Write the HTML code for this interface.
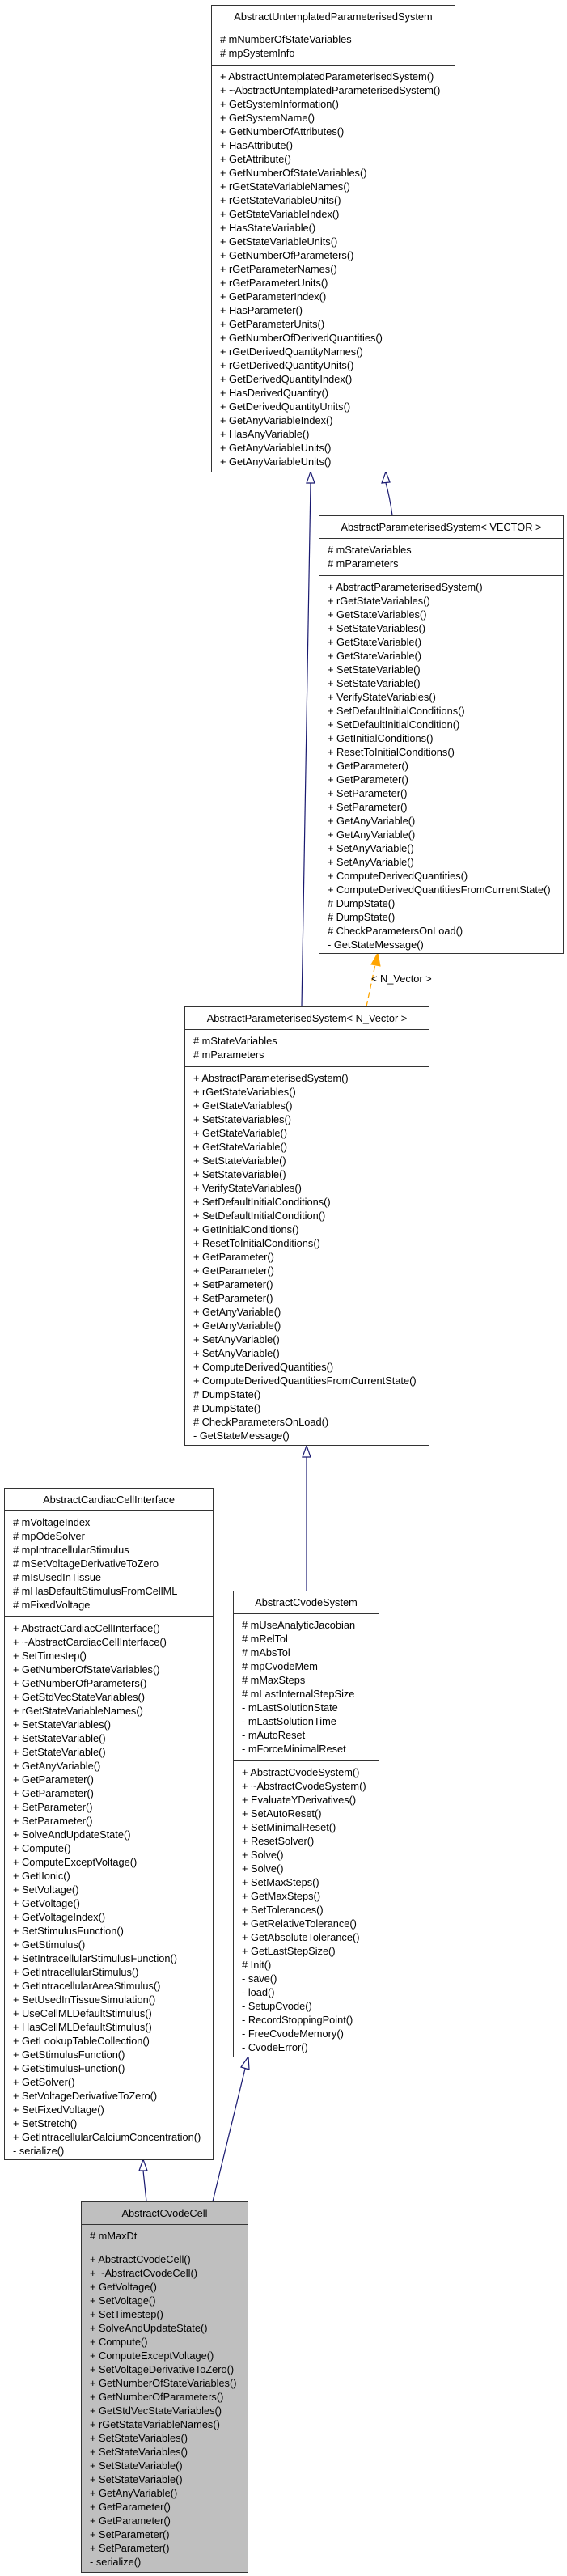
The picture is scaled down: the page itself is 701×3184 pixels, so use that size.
<!DOCTYPE html>
<html><head><meta charset="utf-8">
<style>
html,body{margin:0;padding:0;background:#fff;}
body{width:701px;height:3184px;position:relative;overflow:hidden;font-family:"Liberation Sans",Arial,sans-serif;font-size:12.8px;color:#000;}
.box{position:absolute;border:1.3px solid #333;background:#fff;box-sizing:border-box;}
.box.g{background:#bfbfbf;}
.t{height:27px;line-height:27px;text-align:center;border-bottom:1.3px solid #333;white-space:nowrap;}
.s{padding:5px 0 6px 10px;line-height:17px;white-space:nowrap;}
.s+.s{border-top:1.3px solid #333;}
.s div{height:17px;}
svg{position:absolute;left:0;top:0;}
.lbl{position:absolute;white-space:nowrap;}
</style></head><body>
<svg width="701" height="3184">
<g fill="none" stroke="#191970" stroke-width="1.2">
<path d="M373,1244 L384,597"/>
<path d="M485,637 Q482,615 477,597"/>
<path d="M379,1787 L379,1966"/>
<path d="M181,2721 L177,2683"/>
<path d="M263,2721 L303,2557"/>
</g>
<g fill="#fff" stroke="#191970" stroke-width="1.2">
<polygon points="384,583 379,597 389,597"/>
<polygon points="477,583 472,597 482,596"/>
<polygon points="379,1787 374,1801 384,1801"/>
<polygon points="177,2669 172,2683 182,2683"/>
<polygon points="307,2542 298,2555 308,2558"/>
</g>
<path d="M453,1244 L464,1192" fill="none" stroke="#ffa500" stroke-width="1.3" stroke-dasharray="7,4"/>
<polygon points="467,1178 459,1192 470,1194" fill="#ffa500" stroke="#ffa500"/>
</svg>
<div class="lbl" style="left:459px;top:1202px;">&lt; N_Vector &gt;</div>

<div class="box" style="left:261px;top:6px;width:302px;height:578px;">
<div class="t">AbstractUntemplatedParameterisedSystem</div>
<div class="s"><div># mNumberOfStateVariables</div><div># mpSystemInfo</div></div>
<div class="s">
<div>+ AbstractUntemplatedParameterisedSystem()</div><div>+ ~AbstractUntemplatedParameterisedSystem()</div><div>+ GetSystemInformation()</div><div>+ GetSystemName()</div><div>+ GetNumberOfAttributes()</div><div>+ HasAttribute()</div><div>+ GetAttribute()</div><div>+ GetNumberOfStateVariables()</div><div>+ rGetStateVariableNames()</div><div>+ rGetStateVariableUnits()</div><div>+ GetStateVariableIndex()</div><div>+ HasStateVariable()</div><div>+ GetStateVariableUnits()</div><div>+ GetNumberOfParameters()</div><div>+ rGetParameterNames()</div><div>+ rGetParameterUnits()</div><div>+ GetParameterIndex()</div><div>+ HasParameter()</div><div>+ GetParameterUnits()</div><div>+ GetNumberOfDerivedQuantities()</div><div>+ rGetDerivedQuantityNames()</div><div>+ rGetDerivedQuantityUnits()</div><div>+ GetDerivedQuantityIndex()</div><div>+ HasDerivedQuantity()</div><div>+ GetDerivedQuantityUnits()</div><div>+ GetAnyVariableIndex()</div><div>+ HasAnyVariable()</div><div>+ GetAnyVariableUnits()</div><div>+ GetAnyVariableUnits()</div>
</div></div>

<div class="box" style="left:394px;top:637px;width:303px;height:542px;">
<div class="t">AbstractParameterisedSystem&lt; VECTOR &gt;</div>
<div class="s"><div># mStateVariables</div><div># mParameters</div></div>
<div class="s">
<div>+ AbstractParameterisedSystem()</div><div>+ rGetStateVariables()</div><div>+ GetStateVariables()</div><div>+ SetStateVariables()</div><div>+ GetStateVariable()</div><div>+ GetStateVariable()</div><div>+ SetStateVariable()</div><div>+ SetStateVariable()</div><div>+ VerifyStateVariables()</div><div>+ SetDefaultInitialConditions()</div><div>+ SetDefaultInitialCondition()</div><div>+ GetInitialConditions()</div><div>+ ResetToInitialConditions()</div><div>+ GetParameter()</div><div>+ GetParameter()</div><div>+ SetParameter()</div><div>+ SetParameter()</div><div>+ GetAnyVariable()</div><div>+ GetAnyVariable()</div><div>+ SetAnyVariable()</div><div>+ SetAnyVariable()</div><div>+ ComputeDerivedQuantities()</div><div>+ ComputeDerivedQuantitiesFromCurrentState()</div><div># DumpState()</div><div># DumpState()</div><div># CheckParametersOnLoad()</div><div>- GetStateMessage()</div>
</div></div>

<div class="box" style="left:228px;top:1244px;width:303px;height:543px;">
<div class="t">AbstractParameterisedSystem&lt; N_Vector &gt;</div>
<div class="s"><div># mStateVariables</div><div># mParameters</div></div>
<div class="s">
<div>+ AbstractParameterisedSystem()</div><div>+ rGetStateVariables()</div><div>+ GetStateVariables()</div><div>+ SetStateVariables()</div><div>+ GetStateVariable()</div><div>+ GetStateVariable()</div><div>+ SetStateVariable()</div><div>+ SetStateVariable()</div><div>+ VerifyStateVariables()</div><div>+ SetDefaultInitialConditions()</div><div>+ SetDefaultInitialCondition()</div><div>+ GetInitialConditions()</div><div>+ ResetToInitialConditions()</div><div>+ GetParameter()</div><div>+ GetParameter()</div><div>+ SetParameter()</div><div>+ SetParameter()</div><div>+ GetAnyVariable()</div><div>+ GetAnyVariable()</div><div>+ SetAnyVariable()</div><div>+ SetAnyVariable()</div><div>+ ComputeDerivedQuantities()</div><div>+ ComputeDerivedQuantitiesFromCurrentState()</div><div># DumpState()</div><div># DumpState()</div><div># CheckParametersOnLoad()</div><div>- GetStateMessage()</div>
</div></div>

<div class="box" style="left:5px;top:1839px;width:259px;height:831px;">
<div class="t">AbstractCardiacCellInterface</div>
<div class="s"><div># mVoltageIndex</div><div># mpOdeSolver</div><div># mpIntracellularStimulus</div><div># mSetVoltageDerivativeToZero</div><div># mIsUsedInTissue</div><div># mHasDefaultStimulusFromCellML</div><div># mFixedVoltage</div></div>
<div class="s">
<div>+ AbstractCardiacCellInterface()</div><div>+ ~AbstractCardiacCellInterface()</div><div>+ SetTimestep()</div><div>+ GetNumberOfStateVariables()</div><div>+ GetNumberOfParameters()</div><div>+ GetStdVecStateVariables()</div><div>+ rGetStateVariableNames()</div><div>+ SetStateVariables()</div><div>+ SetStateVariable()</div><div>+ SetStateVariable()</div><div>+ GetAnyVariable()</div><div>+ GetParameter()</div><div>+ GetParameter()</div><div>+ SetParameter()</div><div>+ SetParameter()</div><div>+ SolveAndUpdateState()</div><div>+ Compute()</div><div>+ ComputeExceptVoltage()</div><div>+ GetIIonic()</div><div>+ SetVoltage()</div><div>+ GetVoltage()</div><div>+ GetVoltageIndex()</div><div>+ SetStimulusFunction()</div><div>+ GetStimulus()</div><div>+ SetIntracellularStimulusFunction()</div><div>+ GetIntracellularStimulus()</div><div>+ GetIntracellularAreaStimulus()</div><div>+ SetUsedInTissueSimulation()</div><div>+ UseCellMLDefaultStimulus()</div><div>+ HasCellMLDefaultStimulus()</div><div>+ GetLookupTableCollection()</div><div>+ GetStimulusFunction()</div><div>+ GetStimulusFunction()</div><div>+ GetSolver()</div><div>+ SetVoltageDerivativeToZero()</div><div>+ SetFixedVoltage()</div><div>+ SetStretch()</div><div>+ GetIntracellularCalciumConcentration()</div><div>- serialize()</div>
</div></div>

<div class="box" style="left:288px;top:1966px;width:181px;height:577px;">
<div class="t">AbstractCvodeSystem</div>
<div class="s"><div># mUseAnalyticJacobian</div><div># mRelTol</div><div># mAbsTol</div><div># mpCvodeMem</div><div># mMaxSteps</div><div># mLastInternalStepSize</div><div>- mLastSolutionState</div><div>- mLastSolutionTime</div><div>- mAutoReset</div><div>- mForceMinimalReset</div></div>
<div class="s">
<div>+ AbstractCvodeSystem()</div><div>+ ~AbstractCvodeSystem()</div><div>+ EvaluateYDerivatives()</div><div>+ SetAutoReset()</div><div>+ SetMinimalReset()</div><div>+ ResetSolver()</div><div>+ Solve()</div><div>+ Solve()</div><div>+ SetMaxSteps()</div><div>+ GetMaxSteps()</div><div>+ SetTolerances()</div><div>+ GetRelativeTolerance()</div><div>+ GetAbsoluteTolerance()</div><div>+ GetLastStepSize()</div><div># Init()</div><div>- save()</div><div>- load()</div><div>- SetupCvode()</div><div>- RecordStoppingPoint()</div><div>- FreeCvodeMemory()</div><div>- CvodeError()</div>
</div></div>

<div class="box g" style="left:100px;top:2721px;width:207px;height:459px;">
<div class="t">AbstractCvodeCell</div>
<div class="s"><div># mMaxDt</div></div>
<div class="s">
<div>+ AbstractCvodeCell()</div><div>+ ~AbstractCvodeCell()</div><div>+ GetVoltage()</div><div>+ SetVoltage()</div><div>+ SetTimestep()</div><div>+ SolveAndUpdateState()</div><div>+ Compute()</div><div>+ ComputeExceptVoltage()</div><div>+ SetVoltageDerivativeToZero()</div><div>+ GetNumberOfStateVariables()</div><div>+ GetNumberOfParameters()</div><div>+ GetStdVecStateVariables()</div><div>+ rGetStateVariableNames()</div><div>+ SetStateVariables()</div><div>+ SetStateVariables()</div><div>+ SetStateVariable()</div><div>+ SetStateVariable()</div><div>+ GetAnyVariable()</div><div>+ GetParameter()</div><div>+ GetParameter()</div><div>+ SetParameter()</div><div>+ SetParameter()</div><div>- serialize()</div>
</div></div>
</body></html>
